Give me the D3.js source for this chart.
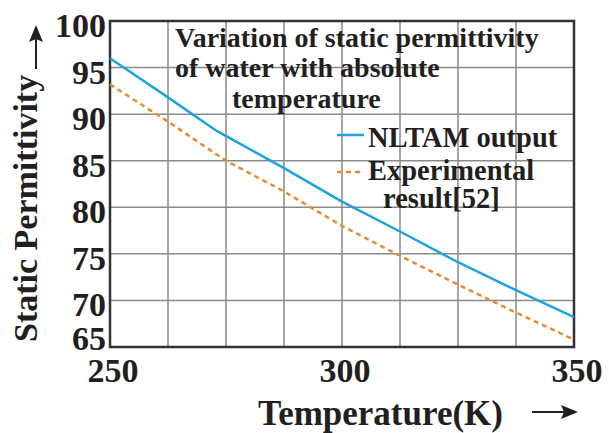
<!DOCTYPE html>
<html>
<head>
<meta charset="utf-8">
<script src="https://cdn.jsdelivr.net/npm/d3@7/dist/d3.min.js"></script>
<style>
  html, body { margin: 0; padding: 0; background: #fff; }
  svg { display: block; }
  text { font-family: "Liberation Serif", "Times New Roman", serif; font-weight: bold; fill: #231f20; }
</style>
</head>
<body>
<svg id="chart" width="609" height="433"></svg>
<script>
// Temperature (K) samples
const temperature = [250, 262.5, 273, 287.5, 300, 312.5, 325, 337.5, 350];
// Static permittivity from the NLTAM model
const nltamOutput = [96.0, 91.8, 88.2, 84.2, 80.6, 77.4, 74.1, 71.1, 68.2];
// Experimental permittivity, sampled on its own grid
const expTemperature = [250, 262.5, 275, 287.5, 300, 312.5, 325, 337.5, 350];
const experimental = [93.2, 89.2, 85.0, 81.7, 78.0, 74.8, 71.7, 68.7, 65.8];

const xTickLabels = [250, 300, 350];
const yTickLabels = [65, 70, 75, 80, 85, 90, 95, 100];
const xGrid = [262.5, 275, 287.5, 300, 312.5, 325, 337.5];
const yGrid = [70, 75, 80, 85, 90, 95];

const titleLines = ["Variation of static permittivity", "of water with absolute", "temperature"];

const svg = d3.select("#chart");
const plot = { left: 110, right: 574, top: 21, bottom: 347 };

const x = d3.scaleLinear().domain([250, 350]).range([plot.left, plot.right]);
const y = d3.scaleLinear().domain([65, 100]).range([plot.bottom, plot.top]);

// grid
const grid = svg.append("g").attr("stroke", "#8a8a8a").attr("stroke-width", 1.5);
grid.selectAll("line.v").data(xGrid).join("line")
  .attr("x1", d => x(d)).attr("x2", d => x(d))
  .attr("y1", plot.top).attr("y2", plot.bottom);
grid.selectAll("line.h").data(yGrid).join("line")
  .attr("x1", plot.left).attr("x2", plot.right)
  .attr("y1", d => y(d)).attr("y2", d => y(d));

// frame
svg.append("rect")
  .attr("x", plot.left).attr("y", plot.top)
  .attr("width", plot.right - plot.left).attr("height", plot.bottom - plot.top)
  .attr("fill", "none").attr("stroke", "#333").attr("stroke-width", 2.5);

// series
const line = d3.line().x(d => x(d[0])).y(d => y(d[1]));
svg.append("path")
  .datum(d3.zip(expTemperature, experimental))
  .attr("d", line)
  .attr("fill", "none").attr("stroke", "#ea8a30").attr("stroke-width", 2.5)
  .attr("stroke-dasharray", "5,4");
svg.append("path")
  .datum(d3.zip(temperature, nltamOutput))
  .attr("d", line)
  .attr("fill", "none").attr("stroke", "#1ea3dc").attr("stroke-width", 2.5);

// x tick labels
svg.append("g").selectAll("text").data(xTickLabels).join("text")
  .attr("x", d => x(d) + 3).attr("y", 382)
  .attr("text-anchor", "middle").attr("font-size", 34)
  .text(d => d);

// y tick labels
svg.append("g").selectAll("text").data(yTickLabels).join("text")
  .attr("x", 106)
  .attr("y", d => d === 65 ? y(d) + 3 : y(d) + 16)
  .attr("text-anchor", "end").attr("font-size", 34)
  .text(d => d);

// axis titles
svg.append("text")
  .attr("x", 258).attr("y", 425).attr("font-size", 35)
  .text("Temperature(K)");
svg.append("text")
  .attr("transform", "translate(37,342) rotate(-90)")
  .attr("font-size", 34)
  .text("Static Permittivity");

// arrows
const arrows = svg.append("g").attr("stroke", "#231f20").attr("fill", "#231f20");
arrows.append("line").attr("x1", 532).attr("x2", 565).attr("y1", 412).attr("y2", 412).attr("stroke-width", 2);
arrows.append("path").attr("d", "M578,412 L561,405 L564,412 L561,419 Z").attr("stroke", "none");
arrows.append("line").attr("x1", 36).attr("x2", 36).attr("y1", 69).attr("y2", 38).attr("stroke-width", 2);
arrows.append("path").attr("d", "M36,25 L29,42 L36,39 L43,42 Z").attr("stroke", "none");

// title
const titleX = [175, 175, 232];
const titleY = [47, 77, 108];
svg.append("g").selectAll("text").data(titleLines).join("text")
  .attr("x", (d, i) => titleX[i]).attr("y", (d, i) => titleY[i])
  .attr("font-size", 28)
  .text(d => d);

// legend
const legend = svg.append("g");
legend.append("line").attr("x1", 337).attr("x2", 364).attr("y1", 135).attr("y2", 135)
  .attr("stroke", "#1ea3dc").attr("stroke-width", 2.5);
legend.append("text").attr("x", 368).attr("y", 147).attr("font-size", 28.5).text("NLTAM output");
legend.append("line").attr("x1", 337).attr("x2", 364).attr("y1", 172).attr("y2", 172)
  .attr("stroke", "#ea8a30").attr("stroke-width", 2.5).attr("stroke-dasharray", "5,4");
legend.append("text").attr("x", 368).attr("y", 180).attr("font-size", 28.5).text("Experimental");
legend.append("text").attr("x", 383).attr("y", 208).attr("font-size", 28.5).text("result[52]");
</script>
</body>
</html>
